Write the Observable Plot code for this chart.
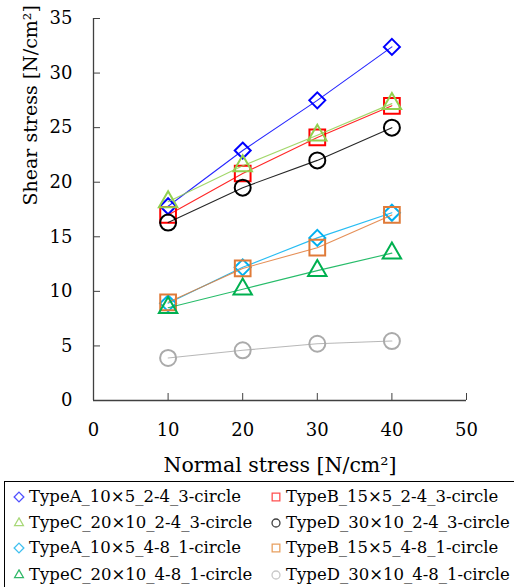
<!DOCTYPE html>
<html><head><meta charset="utf-8">
<script src="https://cdn.jsdelivr.net/npm/d3@7"></script>
<script src="https://cdn.jsdelivr.net/npm/@observablehq/plot@0.6"></script>
<style>
body{margin:0;background:#fff;width:514px;height:587px;overflow:hidden;position:relative;font-family:"DejaVu Serif",serif;}
#chart{position:absolute;left:0;top:0;}
#legend{position:absolute;left:4px;top:481px;width:530px;height:130px;border:1px solid #000;box-sizing:border-box;}
.item{position:absolute;font-size:16.5px;white-space:nowrap;line-height:20px;color:#000;}
.item svg{position:absolute;left:-16px;top:4px;}
</style></head><body>
<div id="chart"></div><div id="legend"></div>
<script>
const normalStress = [10, 20, 30, 40];
const seriesNames = [
  "TypeA_10×5_2-4_3-circle", "TypeB_15×5_2-4_3-circle",
  "TypeC_20×10_2-4_3-circle", "TypeD_30×10_2-4_3-circle",
  "TypeA_10×5_4-8_1-circle", "TypeB_15×5_4-8_1-circle",
  "TypeC_20×10_4-8_1-circle", "TypeD_30×10_4-8_1-circle"
];
const seriesColors = ["#0000FF", "#FF0000", "#92D050", "#000000", "#00B0F0", "#E07B39", "#00B050", "#AAAAAA"];
const legendColors = ["#5050FF", "#FF5050", "#A8D878", "#404040", "#40C0F0", "#E8A060", "#30B868", "#C8C8C8"];
const seriesSymbols = ["diamond2", "square2", "triangle2", "circle", "diamond2", "square2", "triangle2", "circle"];
const typeA_2_4_3 = [17.8, 22.9, 27.5, 32.4];
const typeB_2_4_3 = [17.0, 20.8, 24.1, 27.0];
const typeC_2_4_3 = [18.2, 21.5, 24.3, 27.2];
const typeD_2_4_3 = [16.3, 19.5, 22.0, 25.0];
const typeA_4_8_1 = [8.9, 12.2, 14.9, 17.2];
const typeB_4_8_1 = [9.0, 12.1, 14.0, 17.0];
const typeC_4_8_1 = [8.5, 10.2, 11.9, 13.5];
const typeD_4_8_1 = [3.9, 4.6, 5.2, 5.45];
const seriesValues = [typeA_2_4_3, typeB_2_4_3, typeC_2_4_3, typeD_2_4_3, typeA_4_8_1, typeB_4_8_1, typeC_4_8_1, typeD_4_8_1];
const xTicks = [0, 10, 20, 30, 40, 50];
const yTicks = [0, 5, 10, 15, 20, 25, 30, 35];
const xLabel = "Normal stress [N/cm²]";
const yLabel = "Shear stress [N/cm²]";

const symbolR = {diamond2: 7.2, square2: 10, triangle2: 8.8, circle: 8};

const marks = [];
seriesValues.forEach((vals, i) => {
  const data = normalStress.map((x, j) => ({x, y: vals[j]}));
  marks.push(Plot.line(data, {x: "x", y: "y", stroke: seriesColors[i], strokeWidth: 1.1, strokeOpacity: 0.85}));
  marks.push(Plot.dot(data, {x: "x", y: "y", symbol: seriesSymbols[i], r: symbolR[seriesSymbols[i]], stroke: seriesColors[i], fill: "none", strokeWidth: 2}));
});

const axisColor = "#404040";
const font = {fontFamily: "DejaVu Serif", fontSize: 18};
const plot = Plot.plot({
  width: 514, height: 481,
  marginLeft: 93, marginRight: 48, marginTop: 18, marginBottom: 81,
  style: {fontFamily: "DejaVu Serif, serif", fontSize: "18px", color: "#000", background: "#fff"},
  x: {domain: [0, 50]},
  y: {domain: [0, 35]},
  marks: [
    Plot.ruleX([0], {stroke: axisColor, strokeWidth: 1.3}),
    Plot.ruleY([0], {stroke: axisColor, strokeWidth: 1.3}),
    Plot.axisY({ticks: yTicks, tickSize: -7, text: null, stroke: axisColor, label: null}),
    Plot.axisY({ticks: yTicks, tickSize: 0, tickPadding: 21, label: null, fill: "#000", ...font}),
    Plot.axisX({ticks: xTicks, tickSize: -7, text: null, stroke: axisColor, label: null}),
    Plot.axisX({ticks: xTicks, tickSize: 0, tickPadding: 23, label: null, fill: "#000", ...font}),
    Plot.text([yLabel], {frameAnchor: "left", rotate: -90, dx: -63, dy: -4, fontFamily: "DejaVu Serif", fontSize: 19, fill: "#000"}),
    Plot.text([xLabel], {frameAnchor: "bottom", dy: 71, fontFamily: "DejaVu Serif", fontSize: 20.5, fill: "#000"}),
    ...marks
  ]
});
document.getElementById("chart").appendChild(plot);

const symMap = {diamond2: d3.symbolDiamond2, square2: d3.symbolSquare2, triangle2: d3.symbolTriangle2, circle: d3.symbolCircle};
const symSize = {diamond2: 60, square2: 75, triangle2: 55, circle: 50};
const legend = document.getElementById("legend");
const colX = [24, 281];
const rowY = [5, 31, 56, 83];
seriesNames.forEach((name, i) => {
  const div = document.createElement("div");
  div.className = "item";
  div.style.left = colX[i % 2] + "px";
  div.style.top = rowY[Math.floor(i / 2)] + "px";
  const path = d3.symbol(symMap[seriesSymbols[i]], symSize[seriesSymbols[i]])();
  div.innerHTML = `<svg width="12" height="12" viewBox="-6 -6 12 12"><path d="${path}" fill="none" stroke="${legendColors[i]}" stroke-width="1.3"/></svg>${name}`;
  legend.appendChild(div);
});
</script>
</body></html>
